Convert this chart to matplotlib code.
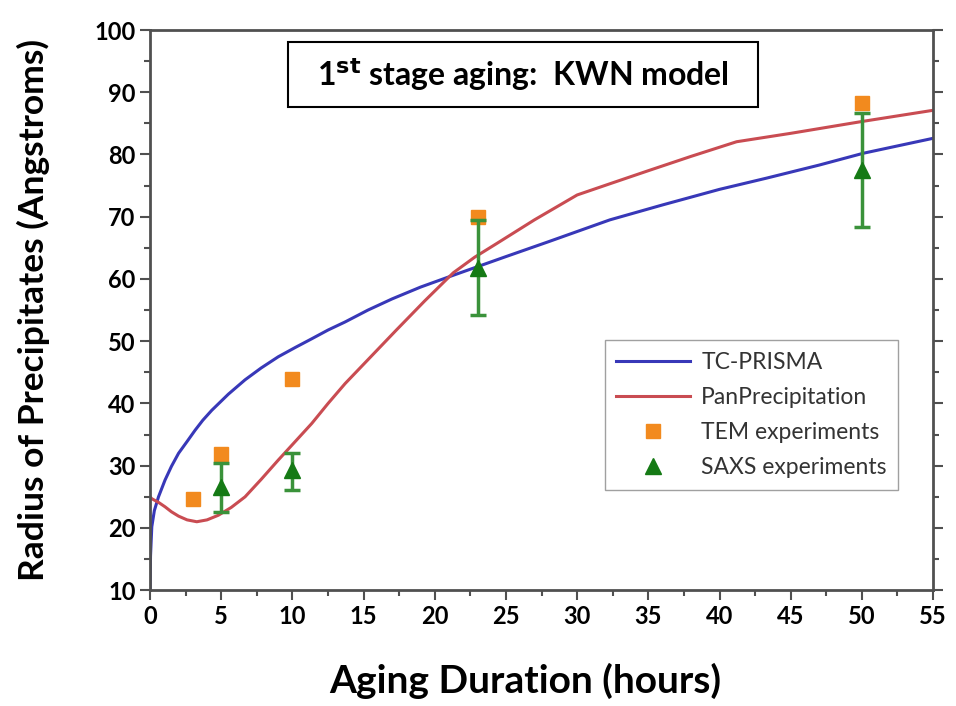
import matplotlib
matplotlib.use('Agg')
from matplotlib import pyplot as plt
from matplotlib.ticker import MultipleLocator
from matplotlib.patches import Rectangle

plt.rcParams['font.family'] = ['Lato', 'DejaVu Sans']

# TC-PRISMA model curve
prisma_x = [0, 0.03, 0.12, 0.3, 0.59, 1.05, 1.5, 2.0, 2.6, 3.16, 3.7, 4.33, 5.5, 6.67, 7.8,
            9.0, 10.2, 11.36, 12.5, 13.7, 15.3, 17, 19, 21.3, 25, 28, 32.3, 36, 40, 43.3,
            47, 50.1, 55]
prisma_y = [10, 15.5, 20.2, 22.8, 25.0, 27.7, 29.9, 32.0, 33.9, 35.7, 37.3, 38.9, 41.5, 43.8, 45.7,
            47.5, 49.0, 50.4, 51.8, 53.1, 55.0, 56.8, 58.7, 60.6, 63.6, 66.0, 69.5, 71.9, 74.4, 76.2,
            78.3, 80.2, 82.6]

# PanPrecipitation model curve
pan_x = [0, 0.12, 0.6, 1.05, 1.5, 2.0, 2.6, 3.28, 4.0, 4.8, 5.7, 6.67, 7.8, 9.0, 10.2,
         11.36, 12.5, 13.7, 15.5, 17.3, 19.3, 21.3, 22.8, 24.35, 27, 30, 32.3, 35, 38,
         41.2, 45, 50, 55]
pan_y = [25, 24.7, 24.1, 23.4, 22.6, 21.9, 21.3, 21.0, 21.3, 22.05, 23.3, 25.0, 27.8, 30.9, 33.9,
         36.8, 40.0, 43.2, 47.5, 51.8, 56.5, 61.0, 63.5, 65.7, 69.5, 73.5, 75.3, 77.4, 79.7,
         82.05, 83.4, 85.3, 87.1]

# TEM experiments
tem_x = [3, 5, 10, 23, 50]
tem_y = [24.6, 31.9, 44.0, 70.0, 88.2]

# SAXS experiments with error bar ends
saxs_x = [5, 10, 23, 50]
saxs_y = [26.6, 29.3, 61.7, 77.5]
saxs_lo = [22.6, 26.1, 54.2, 68.4]
saxs_hi = [30.5, 32.1, 69.5, 86.6]

err_lo = [y - lo for y, lo in zip(saxs_y, saxs_lo)]
err_hi = [hi - y for y, hi in zip(saxs_y, saxs_hi)]

fig = plt.figure(figsize=(9.56, 7.06), dpi=100)
ax = fig.add_axes([0.157, 0.164, 0.819, 0.7935])

ax.plot(prisma_x, prisma_y, color='#3838b8', lw=2.2, label='TC-PRISMA')
ax.plot(pan_x, pan_y, color='#c94c52', lw=2.2, label='PanPrecipitation')
ax.plot(tem_x, tem_y, 's', color='#f28a1e', ms=10, label='TEM experiments')
ax.errorbar(saxs_x, saxs_y, yerr=[err_lo, err_hi], fmt='none', ecolor='#3a923a',
            elinewidth=2.5, capsize=6, capthick=2.5)
ax.plot(saxs_x, saxs_y, '^', color='#157a15', ms=12, label='SAXS experiments')

ax.set_xlim(0, 55)
ax.set_ylim(10, 100)
ax.xaxis.set_major_locator(MultipleLocator(5))
ax.xaxis.set_minor_locator(MultipleLocator(2.5))
ax.yaxis.set_major_locator(MultipleLocator(10))
ax.yaxis.set_minor_locator(MultipleLocator(5))

for side in ['left', 'right', 'top', 'bottom']:
    ax.spines[side].set_color('#505050')
    ax.spines[side].set_linewidth(2)

ax.tick_params(which='both', direction='out', colors='#505050', width=1.5,
               labelcolor='black', right=True, top=False)
ax.tick_params(which='major', length=7)
ax.tick_params(which='minor', length=4)
ax.tick_params(labelsize=17)
for lbl in ax.get_xticklabels() + ax.get_yticklabels():
    lbl.set_fontweight('bold')

ax.set_xlabel('Aging Duration (hours)', fontsize=28, fontweight='bold', labelpad=25)
ax.xaxis.label.set_x(0.479)
ax.set_ylabel('Radius of Precipitates (Angstroms)', fontsize=25.5, fontweight='bold', labelpad=32)

# title box
ax.add_patch(Rectangle((0.176, 0.8625), 0.6005, 0.1161, transform=ax.transAxes,
                       fc='white', ec='black', lw=1.5, zorder=5))
ax.text(0.476, 0.9205, '1$^{\\mathbf{st}}$ stage aging:  KWN model', transform=ax.transAxes,
        fontsize=23, fontweight='bold', ha='center', va='center', zorder=6)

leg = ax.legend(loc='upper left', bbox_to_anchor=(0.581, 0.446), fontsize=16.5,
                frameon=True, fancybox=False, edgecolor='#888888',
                handlelength=3.2, handletextpad=0.5, borderpad=0.5, labelspacing=0.62,
                borderaxespad=0)
for t in leg.get_texts():
    t.set_color('#333333')

fig.savefig('out.png', dpi=100)
